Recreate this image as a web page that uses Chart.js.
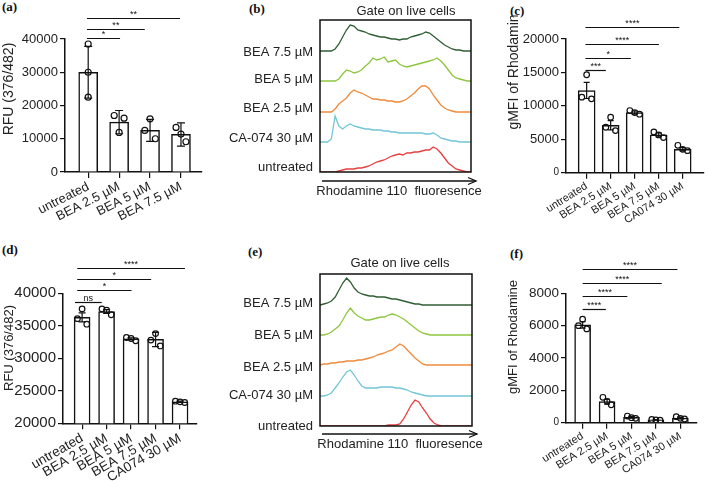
<!DOCTYPE html>
<html>
<head>
<meta charset="utf-8">
<script src="https://cdn.jsdelivr.net/npm/chart.js@4.4.1/dist/chart.umd.min.js"></script>
<style>
  body { margin: 0; background: #fff; width: 709px; height: 481px; position: relative; overflow: hidden; }
  canvas { position: absolute; }
  .tag { position: absolute; font: bold 13px "Liberation Serif", "Times New Roman", serif; color: #111; }
</style>
</head>
<body>
<div class="tag" style="left:2px;top:-1px">(a)</div>
<div class="tag" style="left:249px;top:1px">(b)</div>
<div class="tag" style="left:510px;top:3px">(c)</div>
<div class="tag" style="left:2px;top:242px">(d)</div>
<div class="tag" style="left:248px;top:244px">(e)</div>
<div class="tag" style="left:510px;top:246px">(f)</div>

<canvas id="chartA" width="210" height="240" style="left:0;top:0"></canvas>
<canvas id="chartB" width="280" height="215" style="left:210px;top:0"></canvas>
<canvas id="chartC" width="219" height="240" style="left:490px;top:0"></canvas>
<canvas id="chartD" width="210" height="241" style="left:0;top:240px"></canvas>
<canvas id="chartE" width="280" height="215" style="left:210px;top:240px"></canvas>
<canvas id="chartF" width="219" height="241" style="left:490px;top:240px"></canvas>

<script>
// ---- bar panels ----
const groupsA = ['untreated', 'BEA 2.5 µM', 'BEA 5 µM', 'BEA 7.5 µM'];
const meanA = [30000, 15000, 12500, 11300];
const errA = [7800, 3500, 3300, 3500];
const ptsA = [[38500, 30000, 22500], [17000, 11900, 16200], [12500, 16000, 10000], [13400, 11400, 9100]];
const sigA = [[-0.04, 2.97, 46400, '**'], [-0.04, 1.83, 43000, '**'], [-0.04, 1.03, 40200, '*']];

const groupsCF = ['untreated', 'BEA 2.5 µM', 'BEA 5 µM', 'BEA 7.5 µM', 'CA074 30 µM'];

const meanC = [12300, 7100, 9000, 5650, 3500];
const errC = [1200, 700, 250, 300, 250];
const ptsC = [[11300, 14650, 11050], [6800, 8300, 6300], [9300, 9000, 8750], [6100, 5650, 5250], [4100, 3500, 3300]];
const sigC = [[-0.05, 0.8, 15430, '***'], [-0.05, 1.84, 17220, '*'], [-0.05, 3.01, 19310, '****'], [-0.05, 3.86, 21790, '****']];

const meanD = [36300, 37200, 33000, 32900, 23300];
const errD = [700, 300, 150, 1100, 100];
const ptsD = [[36100, 37600, 35250], [37600, 37400, 36700], [33200, 33050, 32700], [32800, 33800, 31900], [23400, 23300, 23200]];
const sigD = [[-0.2, 4.2, 43960, '****'], [-0.2, 2.82, 42210, '*'], [-0.2, 2.02, 40510, '*'], [-0.29, 0.8, 38650, 'ns']];

const meanF = [6050, 1300, 330, 170, 290];
const errF = [200, 150, 50, 20, 50];
const ptsF = [[6000, 6400, 5800], [1570, 1320, 1110], [410, 310, 270], [200, 170, 150], [370, 270, 230]];
const sigF = [[0, 0.95, 7030, '****'], [0, 1.83, 7850, '****'], [0, 3.24, 8650, '****'], [0, 3.88, 9480, '****']];

// ---- histogram panels ----
const histLabels = ['BEA 7.5 µM', 'BEA 5 µM', 'BEA 2.5 µM', 'CA-074 30 µM', 'untreated'];
const histColors = ['#2f5e34', '#8dc63f', '#f08a3c', '#72c6d8', '#e4403f'];
const histX = [0, 2.5, 5, 7.5, 10, 12.5, 15, 17.5, 20, 22.5, 25, 27.5, 30, 32.5, 35, 37.5, 40, 42.5, 45, 47.5,
  50, 52.5, 55, 57.5, 60, 62.5, 65, 67.5, 70, 72.5, 75, 77.5, 80, 82.5, 85, 87.5, 90, 92.5, 95, 97.5, 100];

const bOffsets = [121, 91, 60, 30, 0];
const bTickPos = [120, 93, 64, 34, 5];
const bDark = [0, 0, 0, 0, 2, 7, 14, 21, 26, 25, 21, 20, 19, 17, 16, 15, 14, 14, 13, 12, 12, 11, 12, 12, 14, 15, 16, 17, 19, 18, 15, 12, 9, 6, 4, 2, 1, 1, 0, 0, 0];
const bLight = [0, 0, 0, 0, 0, 2, 7, 11, 10, 8, 9, 11, 15, 18, 23, 21, 22, 24, 19, 20, 21, 17, 15, 14, 15, 16, 17, 18, 19, 20, 21, 23, 20, 16, 11, 6, 3, 2, 1, 0, 0];
const bOrange = [0, 0, 0, 0, 3, 8, 11, 14, 19, 22, 20, 19, 17, 15, 13, 13, 12, 12, 11, 11, 10, 10, 11, 13, 16, 19, 23, 26, 26, 23, 17, 12, 7, 4, 2, 1, 0, 0, 0, 0, 0];
const bCyan = [0, 0, 0, 3, 26, 16, 13, 16, 18, 16, 15, 14, 13, 13, 12, 12, 12, 11, 11, 10, 10, 9, 9, 9, 9, 9, 9, 9, 8, 8, 9, 7, 4, 3, 2, 1, 1, 0, 0, 0, 0];
const bRed = [0, 0, 0, 0, 0, 1, 2, 3, 3, 3, 4, 4, 5, 6, 8, 10, 11, 12, 14, 16, 17, 18, 17, 19, 19, 20, 20, 21, 22, 22, 25, 23, 19, 14, 9, 6, 3, 2, 1, 0, 0];

const eOffsets = [121, 91, 61, 30, 0];
const eTickPos = [123, 91, 59, 31, 0];
const eDark = [0, 1, 2, 4, 8, 15, 22, 27, 23, 17, 13, 11, 10, 9, 9, 8, 8, 8, 7, 6, 6, 5, 4, 3, 2, 1, 1, 0, 0, 0, 0, 0, 0, 0, 0, 0, 0, 0, 0, 0, 0];
const eLight = [0, 0, 1, 3, 6, 9, 15, 22, 27, 22, 19, 17, 15, 15, 16, 17, 18, 18, 20, 21, 20, 18, 16, 13, 10, 7, 4, 2, 1, 0, 0, 0, 0, 0, 0, 0, 0, 0, 0, 0, 0];
const eOrange = [0, 1, 1, 2, 2, 3, 3, 4, 4, 4, 5, 5, 6, 7, 8, 10, 11, 12, 14, 15, 18, 21, 19, 15, 11, 7, 4, 1, 0, 0, 0, 0, 0, 0, 0, 0, 0, 0, 0, 0, 0];
const eCyan = [0, 0, 1, 3, 8, 13, 19, 24, 26, 21, 15, 10, 8, 8, 8, 8, 9, 9, 9, 9, 8, 8, 7, 6, 4, 3, 2, 1, 0, 0, 0, 0, 0, 0, 0, 0, 0, 0, 0, 0, 0];
const eRed = [0, 0, 0, 0, 0, 0, 0, 0, 0, 0, 0, 0, 0, 0, 0, 0, 0, 0, 1, 1, 1, 2, 7, 14, 21, 26, 24, 18, 13, 7, 3, 1, 0, 0, 0, 0, 0, 0, 0, 0, 0];

const FONT = '"Liberation Sans", Arial, sans-serif';
Chart.defaults.font.family = FONT;
Chart.defaults.color = '#222';

const axisGrid = { display: true, drawOnChartArea: false, drawTicks: true, offset: false, color: '#111', lineWidth: 1.2 };
const axisBorder = { display: true, color: '#111', width: 1.5 };

// error bars, significance brackets and the rotated y title
function barExtras(o) {
    return {
        id: 'barExtras',
        afterDatasetsDraw(chart) {
            const { ctx, scales: { x, y } } = chart;
            ctx.save();
            ctx.strokeStyle = '#111';
            ctx.lineWidth = 1.2;
            o.means.forEach((m, i) => {
                const px = x.getPixelForValue(i);
                const t = y.getPixelForValue(m + o.errs[i]);
                const b = y.getPixelForValue(m - o.errs[i]);
                ctx.beginPath();
                ctx.moveTo(px, t); ctx.lineTo(px, b);
                ctx.moveTo(px - o.cap, t); ctx.lineTo(px + o.cap, t);
                ctx.moveTo(px - o.cap, b); ctx.lineTo(px + o.cap, b);
                ctx.stroke();
            });
            ctx.fillStyle = '#111';
            ctx.textAlign = 'center';
            ctx.textBaseline = 'alphabetic';
            ctx.font = '9px ' + FONT;
            o.sig.forEach(([a, b, v, s]) => {
                const py = Math.round(y.getPixelForValue(v)) + 0.5;
                const x1 = x.getPixelForValue(a), x2 = x.getPixelForValue(b);
                ctx.beginPath(); ctx.moveTo(x1, py); ctx.lineTo(x2, py); ctx.stroke();
                ctx.fillText(s, (x1 + x2) / 2, py - 2);
            });
            const [text, tx, ty, size] = o.title;
            ctx.fillStyle = '#222';
            ctx.translate(tx, ty);
            ctx.rotate(-Math.PI / 2);
            ctx.textBaseline = 'middle';
            ctx.font = size + 'px ' + FONT;
            ctx.fillText(text, 0, 0);
            ctx.restore();
        }
    };
}

function barPanel(id, o) {
    const ticks = o.labels.map((_, i) => ({ value: i }));
    const pts = [];
    o.points.forEach((g, i) => g.forEach((v, k) => {
        const s = Array.isArray(o.spread) ? o.spread[i] : o.spread;
        pts.push({ x: i + (k - 1) * s, y: v });
    }));
    new Chart(document.getElementById(id), {
        type: 'bar',
        data: {
            datasets: [
                { type: 'scatter', data: pts, order: 1, pointRadius: o.r, pointBorderWidth: 1.2,
                  borderColor: '#111', backgroundColor: 'rgba(255,255,255,0)' },
                { data: o.means.map((v, i) => ({ x: i, y: v })), order: 2, backgroundColor: '#fff',
                  borderColor: '#111', borderWidth: 1.5, barThickness: o.bw }
            ]
        },
        options: {
            responsive: false,
            devicePixelRatio: 1,
            animation: false,
            layout: { padding: { left: 0, top: o.top, right: o.right, bottom: 0 } },
            plugins: { legend: { display: false }, tooltip: { enabled: false } },
            scales: {
                x: {
                    type: 'linear', min: o.xmin, max: o.xmax, offset: false,
                    afterBuildTicks: s => { s.ticks = ticks; },
                    afterFit: s => { s.height = o.xh; },
                    ticks: { callback: v => o.labels[v], minRotation: o.rot, maxRotation: o.rot,
                             autoSkip: false, font: { size: o.xf }, padding: 1 },
                    grid: { ...axisGrid, tickLength: 6 },
                    border: axisBorder
                },
                y: {
                    min: o.ymin, max: o.ymax,
                    afterFit: s => { s.width = o.yw; },
                    ticks: {
                        stepSize: o.step, padding: 2,
                        callback: v => String(v),
                        font: c => ({ size: (o.smallZero && c.tick && c.tick.value === 0) ? 10 : o.yf })
                    },
                    grid: { ...axisGrid, tickLength: 5 },
                    border: axisBorder
                }
            }
        },
        plugins: [barExtras(o)]
    });
}

// frame, arrow, axis text
function histExtras(o) {
    return {
        id: 'histExtras',
        afterDraw(chart) {
            const { ctx, chartArea: a } = chart;
            ctx.save();
            ctx.strokeStyle = '#111';
            ctx.lineWidth = 1.5;
            ctx.strokeRect(a.left, a.top, a.right - a.left, a.bottom - a.top);
            const [x1, x2, ay] = o.arrow;
            ctx.lineWidth = 1.3;
            ctx.beginPath(); ctx.moveTo(x1, ay); ctx.lineTo(x2, ay); ctx.stroke();
            ctx.beginPath(); ctx.moveTo(x2 - 8, ay - 3.5); ctx.lineTo(x2, ay); ctx.lineTo(x2 - 8, ay + 3.5); ctx.stroke();
            ctx.fillStyle = '#222';
            ctx.font = '13px ' + FONT;
            ctx.textAlign = 'center';
            ctx.textBaseline = 'middle';
            ctx.fillText('Rhodamine 110  fluoresence', o.xt[0], o.xt[1]);
            ctx.fillText('Gate on live cells', o.tt[0], o.tt[1]);
            ctx.restore();
        }
    };
}

function histPanel(id, o) {
    const datasets = o.curves.map((vals, i) => ({
        data: vals.map((v, j) => ({ x: histX[j], y: o.offsets[i] + v })),
        borderColor: histColors[i], borderWidth: 1.3, pointRadius: 0, tension: 0, fill: false
    }));
    new Chart(document.getElementById(id), {
        type: 'line',
        data: { datasets },
        options: {
            responsive: false,
            devicePixelRatio: 1,
            animation: false,
            layout: { padding: { left: 0, top: o.top, right: o.right, bottom: o.bottom } },
            plugins: { legend: { display: false }, tooltip: { enabled: false } },
            scales: {
                x: { type: 'linear', min: 0, max: 100, display: false },
                y: {
                    min: 0, max: 152,
                    afterFit: s => { s.width = o.left; },
                    afterBuildTicks: s => { s.ticks = o.tickPos.map(v => ({ value: v })); },
                    ticks: { callback: v => histLabels[o.tickPos.indexOf(v)], font: { size: 13 }, padding: 7, autoSkip: false },
                    grid: { display: false, drawTicks: false },
                    border: { display: false }
                }
            }
        },
        plugins: [histExtras(o)]
    });
}

barPanel('chartA', {
    labels: groupsA, means: meanA, errs: errA, points: ptsA, sig: sigA, spread: [0, 0.16, 0.17, 0.16],
    xmin: -0.75, xmax: 3.67, ymin: 0, ymax: 40000, step: 10000,
    yw: 65, xh: 68, top: 39, right: 8.3, bw: 19, rot: 27, xf: 13, yf: 13, cap: 4, r: 3,
    title: ['RFU (376/482)', 9.5, 89, 14]
});
barPanel('chartC', {
    labels: groupsCF, means: meanC, errs: errC, points: ptsC, sig: sigC, spread: 0.2, smallZero: true,
    xmin: -0.86, xmax: 4.88, ymin: 0, ymax: 20000, step: 5000,
    yw: 76, xh: 67.3, top: 39, right: 1, bw: 17, rot: 32, xf: 11, yf: 13, cap: 3, r: 2.8,
    title: ['gMFI of Rhodamin', 23.7, 72, 14]
});
barPanel('chartD', {
    labels: groupsCF, means: meanD, errs: errD, points: ptsD, sig: sigD, spread: 0.19,
    xmin: -0.78, xmax: 4.68, ymin: 20000, ymax: 40000, step: 5000,
    yw: 63, xh: 57.7, top: 53.3, right: 13.3, bw: 16, rot: 30, xf: 13.5, yf: 15, cap: 3.5, r: 2.8,
    title: ['RFU (376/482)', 9.3, 108, 13]
});
barPanel('chartF', {
    labels: groupsCF, means: meanF, errs: errF, points: ptsF, sig: sigF, spread: 0.17, smallZero: true,
    xmin: -0.68, xmax: 4.68, ymin: 0, ymax: 8000, step: 2000,
    yw: 76, xh: 58.3, top: 53.3, right: 12, bw: 16, rot: 32, xf: 11, yf: 13.5, cap: 3, r: 2.8,
    title: ['gMFI of Rhodamine', 23.7, 97, 13]
});

histPanel('chartB', {
    curves: [bDark, bLight, bOrange, bCyan, bRed], offsets: bOffsets, tickPos: bTickPos,
    left: 110, top: 20, right: 19, bottom: 43,
    arrow: [112, 266, 181], xt: [189, 191], tt: [196, 11]
});
histPanel('chartE', {
    curves: [eDark, eLight, eOrange, eCyan, eRed], offsets: eOffsets, tickPos: eTickPos,
    left: 110, top: 34, right: 18, bottom: 29,
    arrow: [112, 267, 194], xt: [190, 204], tt: [190, 23]
});
</script>
</body>
</html>
